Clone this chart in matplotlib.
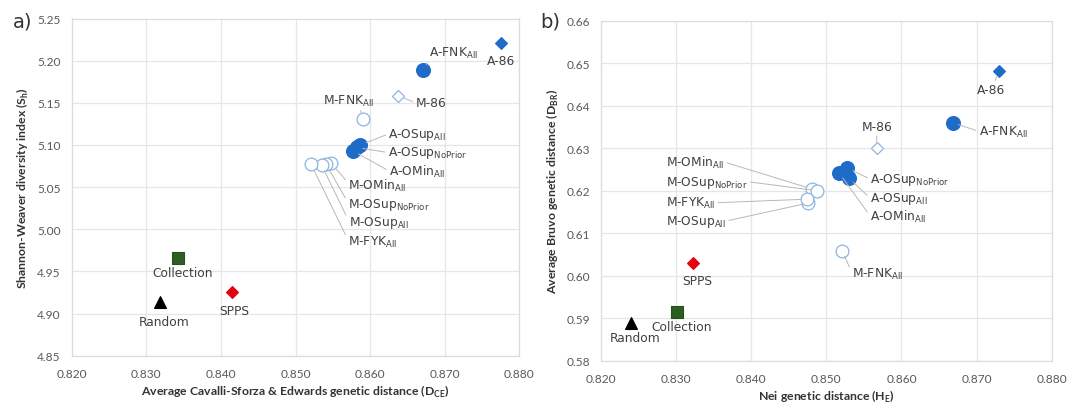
import matplotlib
matplotlib.use("Agg")
import matplotlib.pyplot as plt
from matplotlib.ticker import FormatStrFormatter

# ---------------- data ----------------
names = ["A-86", "A-FNK", "M-86", "M-FNK", "A-OSup", "A-OSup", "A-OMin",
         "M-OMin", "M-OSup", "M-OSup", "M-FYK", "Collection", "SPPS", "Random"]
subs = ["", "All", "", "All", "All", "NoPrior", "All",
        "All", "NoPrior", "All", "All", "", "", ""]
groups = ["A_dia", "A_circ", "M_dia", "M_circ", "A_circ", "A_circ", "A_circ",
          "M_circ", "M_circ", "M_circ", "M_circ", "coll", "spps", "rand"]

# panel a: Cavalli-Sforza & Edwards distance vs Shannon-Weaver index
x_a = [0.8776, 0.8671, 0.8638, 0.8590, 0.8587, 0.8582, 0.8577,
       0.8548, 0.8541, 0.8535, 0.8521, 0.8342, 0.8415, 0.8319]
y_a = [5.221, 5.189, 5.158, 5.131, 5.100, 5.097, 5.093,
       5.078, 5.077, 5.076, 5.077, 4.966, 4.926, 4.914]

# panel b: Nei distance vs Bruvo distance
x_b = [0.8730, 0.8668, 0.8567, 0.8521, 0.8530, 0.8528, 0.8517,
       0.8481, 0.8488, 0.8476, 0.8474, 0.8301, 0.8323, 0.8240]
y_b = [0.6481, 0.6360, 0.6300, 0.6059, 0.6230, 0.6253, 0.6242,
       0.6204, 0.6200, 0.6171, 0.6180, 0.5915, 0.6030, 0.5889]

xticks = [0.820, 0.830, 0.840, 0.850, 0.860, 0.870, 0.880]
yticks_a = [4.85, 4.90, 4.95, 5.00, 5.05, 5.10, 5.15, 5.20, 5.25]
yticks_b = [0.58, 0.59, 0.60, 0.61, 0.62, 0.63, 0.64, 0.65, 0.66]

# ---------------- styles ----------------
BLUE = "#1f6cc8"
LBLUE = "#8fb3e0"
styles = {
    "A_dia": dict(marker="D", ms=6.4, mfc=BLUE, mec=BLUE, mew=0.8),
    "A_circ": dict(marker="o", ms=10, mfc=BLUE, mec=BLUE, mew=0.8),
    "M_dia": dict(marker="D", ms=6.0, mfc="white", mec=LBLUE, mew=0.9),
    "M_circ": dict(marker="o", ms=9.2, mfc="white", mec=LBLUE, mew=0.9),
    "coll": dict(marker="s", ms=9, mfc="#2c5e22", mec="#24501b", mew=0.8),
    "spps": dict(marker="D", ms=6.0, mfc="#e3000f", mec="#e3000f", mew=0.8),
    "rand": dict(marker="^", ms=9, mfc="black", mec="black", mew=0.8),
}
draw_order = ["M_circ", "M_dia", "coll", "spps", "rand", "A_dia", "A_circ"]

# label placement (pixel offsets from point, horizontal align, leader line relpos or None)
place_a = [
    (0, -17, "center", None),
    (6, 18, "left", (0, 0)),
    (17, -6, "left", (0, 0.5)),
    (-14, 19, "center", (0.72, 0)),
    (28, 12, "left", (0, 0.5)),
    (31, -4, "left", (0, 0.5)),
    (36, -20, "left", (0, 0.5)),
    (17, -21, "left", (0, 0.6)),
    (22, -39, "left", (0, 0.6)),
    (27, -56, "left", (0, 0.6)),
    (37, -77, "left", (0, 0.6)),
    (5, -14, "center", None),
    (2, -18, "center", None),
    (4, -19, "center", None),
]
place_b = [
    (-8, -18, "center", (0.6, 1)),
    (26, -8, "left", (0, 0.5)),
    (0, 22, "center", (0.5, 0)),
    (10, -22, "left", (0, 0.5)),
    (21, -19, "left", (0, 0.5)),
    (23, -10, "left", (0, 0.5)),
    (31, -43, "left", (0, 0.5)),
    (-146, 27, "left", (1, 0.5)),
    (-151, 10, "left", (1, 0.5)),
    (-142, -17, "left", (1, 0.5)),
    (-141, -3, "left", (1, 0.5)),
    (5, -14, "center", None),
    (4, -17, "center", None),
    (4, -14, "center", None),
]

plt.rcParams["font.family"] = ["DejaVu Sans"]
TXT = "#404040"
GRID = "#e6e6e6"
LEAD = "#b8b8b8"
W, H = 1079, 406


def label_text(base, sub):
    if sub:
        return base + r"$_{\mathregular{" + sub + r"}}$"
    return base


def setup(ax, yticks, xlabel, ylabel):
    ax.set_xlim(xticks[0], xticks[-1])
    ax.set_ylim(yticks[0], yticks[-1])
    ax.set_xticks(xticks)
    ax.set_yticks(yticks)
    ax.xaxis.set_major_formatter(FormatStrFormatter("%.3f"))
    ax.yaxis.set_major_formatter(FormatStrFormatter("%.2f"))
    ax.grid(True, color=GRID, lw=0.9)
    ax.set_axisbelow(True)
    for sp in ax.spines.values():
        sp.set_color("#dcdcdc")
        sp.set_linewidth(0.9)
    ax.tick_params(length=0, colors="#595959", labelsize=8.6)
    ax.tick_params(axis="x", pad=9)
    ax.tick_params(axis="y", pad=8)
    for t in ax.get_xticklabels() + ax.get_yticklabels():
        t.set_fontfamily("Lato")
    ax.set_xlabel(xlabel, fontfamily="Lato", fontweight="bold", fontsize=8.8,
                  color="#333333", labelpad=2.5)
    ax.set_ylabel(ylabel, fontfamily="Lato", fontweight="bold", fontsize=8.8,
                  color="#333333", labelpad=4)


def draw(ax, xs, ys, place):
    for g in draw_order:
        for i in range(len(xs)):
            if groups[i] == g:
                ax.plot([xs[i]], [ys[i]], ls="none", zorder=3, **styles[g])
    for i in range(len(xs)):
        dx, dy, ha, rel = place[i]
        kw = {}
        if rel is not None:
            kw["arrowprops"] = dict(arrowstyle="-", color=LEAD, lw=0.7,
                                    shrinkA=0, shrinkB=4.5, relpos=rel)
        ax.annotate(label_text(names[i], subs[i]), xy=(xs[i], ys[i]),
                    xytext=(dx, dy - 4), textcoords="offset pixels",
                    ha=ha, va="baseline", fontsize=8.8, color=TXT, zorder=4, **kw)


fig = plt.figure(figsize=(W / 100, H / 100), dpi=100)
ax1 = fig.add_axes([71.7 / W, 1 - 356.7 / H, 447.6 / W, 337.2 / H])
ax2 = fig.add_axes([601 / W, 1 - 361.7 / H, 450.7 / W, 340 / H])

setup(ax1, yticks_a, r"Average Cavalli-Sforza & Edwards genetic distance (D$_{\mathregular{CE}}$)",
      r"Shannon-Weaver diversity index (S$_{\mathregular{h}}$)")
setup(ax2, yticks_b, r"Nei genetic distance (H$_{\mathregular{E}}$)",
      r"Average Bruvo genetic distance (D$_{\mathregular{BR}}$)")

draw(ax1, x_a, y_a, place_a)
draw(ax2, x_b, y_b, place_b)

fig.text(23 / W, 1 - 22 / H, "a)", fontsize=14, color="#333333", ha="center", va="center")
fig.text(550 / W, 1 - 22 / H, "b)", fontsize=14, color="#333333", ha="center", va="center")

fig.savefig("out.png", dpi=100)
